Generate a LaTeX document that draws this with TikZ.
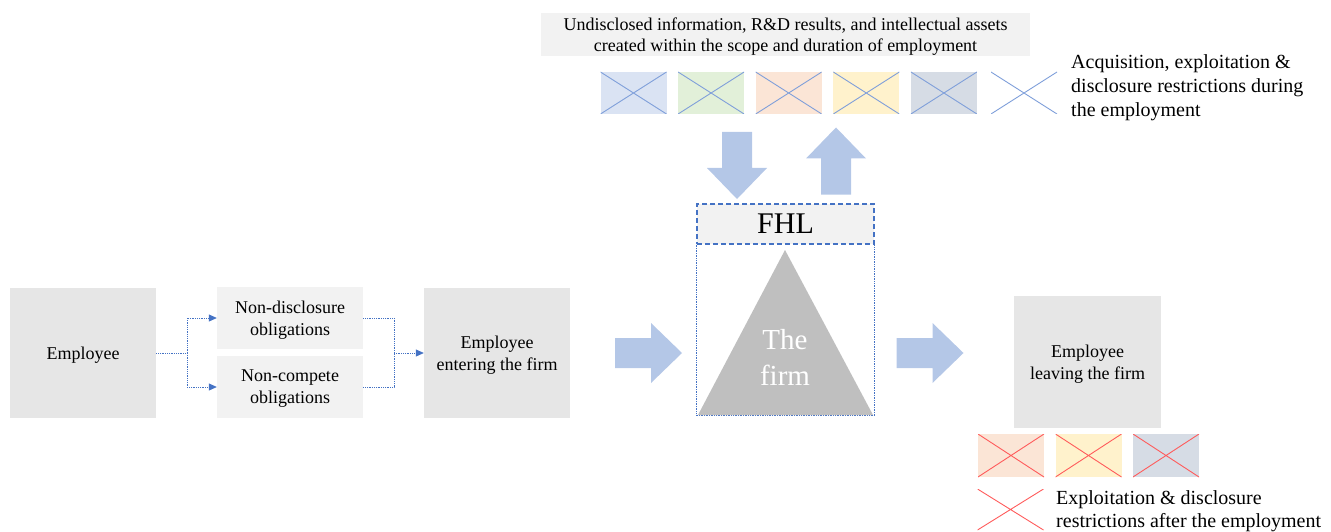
\documentclass[tikz,border=0pt]{standalone}
\usepackage{fontspec}
\setmainfont{Liberation Serif}
\usepackage{tikz}
\usetikzlibrary{arrows.meta}

\definecolor{boxgray}{HTML}{E6E6E6}
\definecolor{boxlight}{HTML}{F2F2F2}
\definecolor{arrowblue}{HTML}{B4C7E7}
\definecolor{linkblue}{HTML}{4472C4}
\definecolor{crossblue}{HTML}{7F9FDA}
\definecolor{crossred}{HTML}{FF5B5B}
\definecolor{firmgray}{HTML}{BFBFBF}
\definecolor{xblue}{HTML}{DAE3F3}
\definecolor{xgreen}{HTML}{E2F0D9}
\definecolor{xorange}{HTML}{FBE5D6}
\definecolor{xyellow}{HTML}{FFF2CC}
\definecolor{xslate}{HTML}{D6DCE5}

\tikzset{
	box/.style={fill=boxgray, minimum width=146pt, minimum height=130pt, align=center, inner sep=0pt, text depth=-2pt, font=\fontsize{18}{22}\selectfont},
	oblig/.style={box, fill=boxlight, minimum height=62pt},
	link/.style={linkblue, densely dotted, line width=0.8pt},
	tip/.style={-{Triangle[length=8pt,width=7pt]}},
	xbox/.style={minimum width=66pt, minimum height=42pt, inner sep=0pt,
		path picture={\draw[#1, line width=0.9pt] (path picture bounding box.south west) -- (path picture bounding box.north east)
			(path picture bounding box.north west) -- (path picture bounding box.south east);}},
	note/.style={align=left, inner sep=0pt, anchor=west, font=\fontsize{20}{24}\selectfont},
	blockarrow/.pic={\fill[arrowblue] (-33.5,-15) -- (2.5,-15) -- (2.5,-30) -- (33.5,0) -- (2.5,30) -- (2.5,15) -- (-33.5,15) -- cycle;}
}

\begin{document}
\begin{tikzpicture}[x=1pt, y=-1pt]
	\useasboundingbox (0,0) rectangle (1331,532);

	% entering the firm
	\node[box] (emp) at (83,353) {Employee};
	\node[oblig] (nondisc) at (290,318) {Non-disclosure\\obligations};
	\node[oblig] (noncomp) at (290,387) {Non-compete\\obligations};
	\node[box] (enter) at (497,353) {Employee\\entering the firm};

	\coordinate (split) at (187,353);
	\coordinate (merge) at (394,353);
	\draw[link] (emp.east) -- (split);
	\draw[link, tip] (split) |- (nondisc.west);
	\draw[link, tip] (split) |- (noncomp.west);
	\draw[link] (nondisc.east) -| (merge);
	\draw[link] (noncomp.east) -| (merge);
	\draw[link, tip] (merge) -- (enter.west);

	% the firm
	\node[fill=boxlight, draw=linkblue, dash pattern=on 5pt off 3pt, line width=1.1pt, minimum width=177pt, minimum height=40pt, inner sep=0pt,
		text depth=-4pt, font=\fontsize{30}{32}\selectfont] (fhl) at (785.5,224) {FHL};
	\draw[linkblue, densely dotted, line width=0.7pt] (fhl.south west) -- ++(0,171) -| (fhl.south east);
	\fill[firmgray] (698,415) -- (785,250) -- (873,415) -- cycle;
	\node[text=white, align=center, text depth=5pt, font=\fontsize{29}{36}\selectfont] (firm) at (785,360) {The\\firm};

	\pic at (648.5,353) {blockarrow};
	\pic at (930,353) {blockarrow};
	\pic[rotate=-90] at (737,165.5) {blockarrow};
	\pic[rotate=90] at (836,161) {blockarrow};

	% during the employment
	\node[fill=boxlight, minimum width=489pt, minimum height=43pt, align=center, inner sep=0pt, text depth=-3pt,
		font=\fontsize{18}{21}\selectfont] (assets) at (785.5,34.5)
		{Undisclosed information, R\&D results, and intellectual assets\\created within the scope and duration of employment};
	\foreach \col [count=\i] in {xblue,xgreen,xorange,xyellow,xslate}
		\node[xbox=crossblue, fill=\col] (top\i) at (633.5+77.6*\i-77.6,93) {};
	\node[xbox=crossblue] (top6) at (1024,93) {};
	\node[note] (during) at (1071,88) {Acquisition, exploitation \&\\disclosure restrictions during\\the employment};

	% after the employment
	\node[box, minimum width=147pt, minimum height=132pt] (leave) at (1087.5,362) {Employee\\leaving the firm};
	\foreach \col [count=\i] in {xorange,xyellow,xslate}
		\node[xbox=crossred, fill=\col, minimum height=43pt] (low\i) at (1011+77.5*\i-77.5,455.5) {};
	\node[xbox=crossred, minimum height=41pt] (low4) at (1010.5,509.5) {};
	\node[note, font=\fontsize{20}{23}\selectfont] (after) at (1056,511) {Exploitation \& disclosure\\restrictions after the employment};
\end{tikzpicture}
\end{document}
